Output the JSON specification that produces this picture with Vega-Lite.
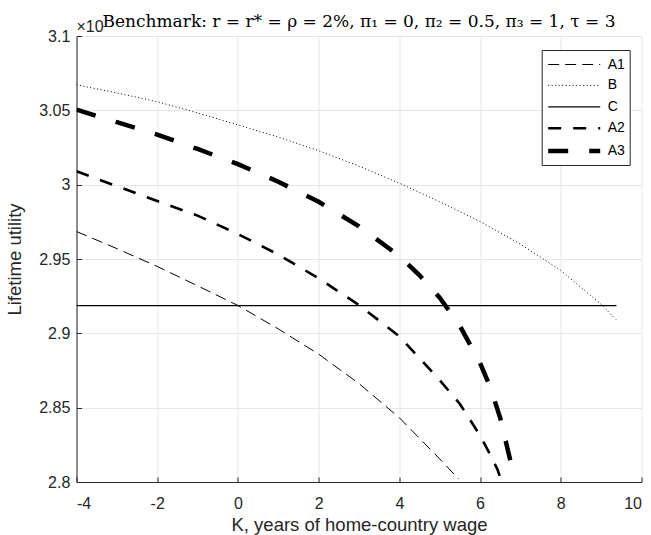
{
  "$schema": "https://vega.github.io/schema/vega-lite/v6.json",
  "width": 565,
  "height": 446,
  "autosize": "none",
  "padding": {"left": 76.5, "top": 36, "right": 9.5, "bottom": 53},
  "background": "white",
  "config": {
    "view": {"stroke": null},
    "axis": {
      "labelFont": "Liberation Sans",
      "titleFont": "Liberation Sans",
      "labelFontSize": 16,
      "titleFontSize": 18.5,
      "titleFontWeight": "normal",
      "labelColor": "#262626",
      "titleColor": "#262626",
      "domainColor": "#262626",
      "tickColor": "#262626",
      "gridColor": "#e6e6e6",
      "domainWidth": 1,
      "tickSize": -5
    }
  },
  "datasets": {
    "curves": [
      {"K": -4, "U": 2.9685, "s": "A1"},
      {"K": -3, "U": 2.957, "s": "A1"},
      {"K": -2, "U": 2.945, "s": "A1"},
      {"K": -1, "U": 2.932, "s": "A1"},
      {"K": 0, "U": 2.9187, "s": "A1"},
      {"K": 1, "U": 2.903, "s": "A1"},
      {"K": 2, "U": 2.886, "s": "A1"},
      {"K": 3, "U": 2.8662, "s": "A1"},
      {"K": 4, "U": 2.8432, "s": "A1"},
      {"K": 5, "U": 2.8155, "s": "A1"},
      {"K": 5.47, "U": 2.802, "s": "A1"},
      {"K": -4, "U": 3.0672, "s": "B"},
      {"K": -3, "U": 3.0617, "s": "B"},
      {"K": -2, "U": 3.0558, "s": "B"},
      {"K": -1, "U": 3.0483, "s": "B"},
      {"K": 0, "U": 3.0402, "s": "B"},
      {"K": 1, "U": 3.032, "s": "B"},
      {"K": 2, "U": 3.0228, "s": "B"},
      {"K": 3, "U": 3.0125, "s": "B"},
      {"K": 4, "U": 3.001, "s": "B"},
      {"K": 5, "U": 2.9885, "s": "B"},
      {"K": 6, "U": 2.9752, "s": "B"},
      {"K": 7, "U": 2.96, "s": "B"},
      {"K": 8, "U": 2.9423, "s": "B"},
      {"K": 9, "U": 2.9195, "s": "B"},
      {"K": 9.38, "U": 2.909, "s": "B"},
      {"K": -4, "U": 2.9187, "s": "C"},
      {"K": 9.38, "U": 2.9187, "s": "C"},
      {"K": -4, "U": 3.009, "s": "A2"},
      {"K": -3, "U": 2.999, "s": "A2"},
      {"K": -2, "U": 2.989, "s": "A2"},
      {"K": -1, "U": 2.9792, "s": "A2"},
      {"K": 0, "U": 2.9668, "s": "A2"},
      {"K": 1, "U": 2.953, "s": "A2"},
      {"K": 2, "U": 2.937, "s": "A2"},
      {"K": 3, "U": 2.919, "s": "A2"},
      {"K": 4, "U": 2.898, "s": "A2"},
      {"K": 5, "U": 2.8685, "s": "A2"},
      {"K": 5.5, "U": 2.8525, "s": "A2"},
      {"K": 6, "U": 2.8313, "s": "A2"},
      {"K": 6.25, "U": 2.8185, "s": "A2"},
      {"K": 6.43, "U": 2.8085, "s": "A2"},
      {"K": 6.5, "U": 2.803, "s": "A2"},
      {"K": -4, "U": 3.0505, "s": "A3"},
      {"K": -3, "U": 3.042, "s": "A3"},
      {"K": -2, "U": 3.0337, "s": "A3"},
      {"K": -1, "U": 3.024, "s": "A3"},
      {"K": 0, "U": 3.0138, "s": "A3"},
      {"K": 1, "U": 3.002, "s": "A3"},
      {"K": 2, "U": 2.9885, "s": "A3"},
      {"K": 3, "U": 2.972, "s": "A3"},
      {"K": 4, "U": 2.952, "s": "A3"},
      {"K": 4.5, "U": 2.939, "s": "A3"},
      {"K": 5, "U": 2.924, "s": "A3"},
      {"K": 5.5, "U": 2.905, "s": "A3"},
      {"K": 6, "U": 2.88, "s": "A3"},
      {"K": 6.25, "U": 2.864, "s": "A3"},
      {"K": 6.5, "U": 2.843, "s": "A3"},
      {"K": 6.75, "U": 2.8144, "s": "A3"},
      {"K": 6.84, "U": 2.8076, "s": "A3"}
    ],
    "notes": [
      {"K": -4, "U": 3.1, "t": "×10", "role": "exp"},
      {"K": 3, "U": 3.1, "t": "Benchmark: r = r* = ρ = 2%, π₁ = 0, π₂ = 0.5, π₃ = 1, τ = 3", "role": "title"}
    ]
  },
  "layer": [
    {
      "data": {"name": "curves"},
      "mark": {"type": "line", "color": "black", "strokeCap": "butt", "clip": true},
      "encoding": {
        "x": {
          "field": "K", "type": "quantitative",
          "scale": {"domain": [-4, 10], "nice": false, "zero": false},
          "axis": {
            "values": [-4, -2, 0, 2, 4, 6, 8, 10],
            "labelExpr": "'' + datum.value",
            "title": "K, years of home-country wage",
            "labelPadding": 18,
            "titlePadding": 4,
            "grid": true
          }
        },
        "y": {
          "field": "U", "type": "quantitative",
          "scale": {"domain": [2.8, 3.1], "nice": false, "zero": false},
          "axis": {
            "values": [2.8, 2.85, 2.9, 2.95, 3.0, 3.05, 3.1],
            "format": ".3~f",
            "title": "Lifetime utility",
            "labelPadding": 11.7,
            "titlePadding": 14,
            "grid": true
          }
        },
        "strokeDash": {
          "field": "s", "type": "nominal",
          "scale": {
            "type": "ordinal",
            "domain": ["A1", "B", "C", "A2", "A3"],
            "range": [[11, 6], [1, 2.5], [1, 0], [13, 12], [20, 21]]
          },
          "legend": {
            "title": null,
            "orient": "none",
            "legendX": 465.2,
            "legendY": 14,
            "symbolType": "M-1,0H4.2",
            "symbolSize": 400,
            "symbolStrokeColor": "black",
            "labelFont": "Liberation Sans",
            "labelFontSize": 14,
            "labelColor": "black",
            "strokeColor": "#262626",
            "fillColor": "white",
            "padding": 4,
            "labelOffset": 37,
            "rowPadding": 2.9
          }
        },
        "strokeWidth": {
          "field": "s", "type": "nominal",
          "scale": {
            "type": "ordinal",
            "domain": ["A1", "B", "C", "A2", "A3"],
            "range": [1, 1, 1.2, 2.6, 4.5]
          },
          "legend": {
            "title": null,
            "orient": "none",
            "legendX": 465.2,
            "legendY": 14,
            "symbolType": "M-1,0H4.2",
            "symbolSize": 400,
            "symbolStrokeColor": "black",
            "labelFont": "Liberation Sans",
            "labelFontSize": 14,
            "labelColor": "black",
            "strokeColor": "#262626",
            "fillColor": "white",
            "padding": 4,
            "labelOffset": 37,
            "rowPadding": 2.9
          }
        }
      }
    },
    {
      "data": {"name": "notes"},
      "transform": [{"filter": "datum.role == 'exp'"}],
      "mark": {"type": "text", "align": "left", "baseline": "alphabetic", "dy": -4, "dx": 0, "font": "Liberation Sans", "fontSize": 16, "color": "#262626"},
      "encoding": {
        "x": {"field": "K", "type": "quantitative"},
        "y": {"field": "U", "type": "quantitative"},
        "text": {"field": "t"}
      }
    },
    {
      "data": {"name": "notes"},
      "transform": [{"filter": "datum.role == 'title'"}],
      "mark": {"type": "text", "align": "center", "baseline": "alphabetic", "dy": -9, "font": "DejaVu Serif", "fontSize": 17, "color": "black"},
      "encoding": {
        "x": {"field": "K", "type": "quantitative"},
        "y": {"field": "U", "type": "quantitative"},
        "text": {"field": "t"}
      }
    }
  ]
}
